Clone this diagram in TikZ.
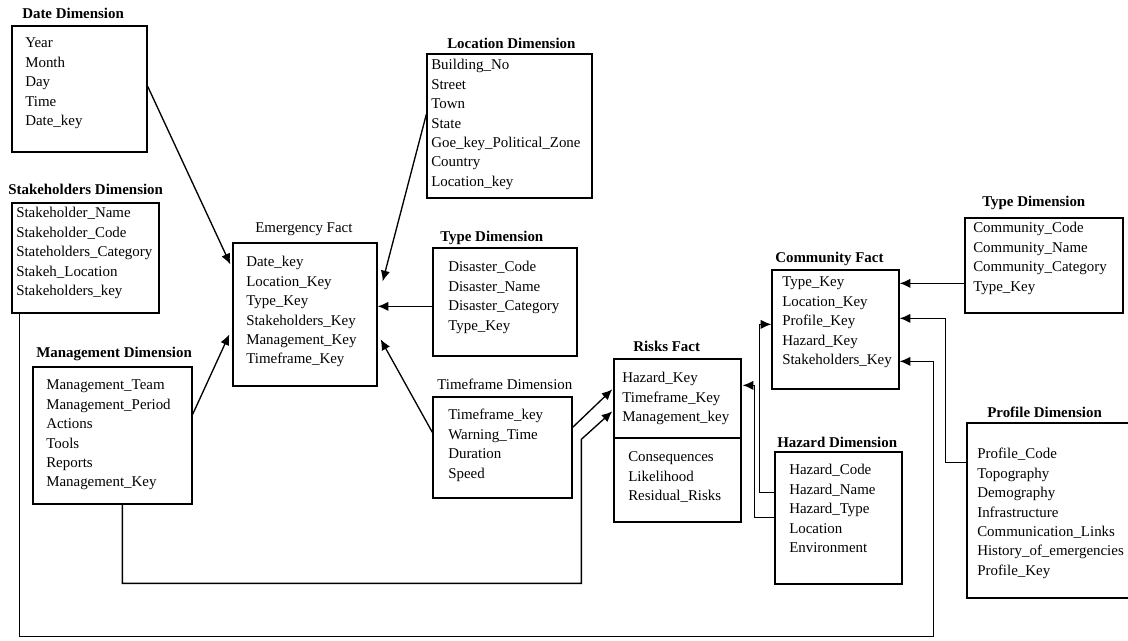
\documentclass[tikz,border=0pt]{standalone}
\usepackage{fontspec}
\setmainfont{Liberation Serif}
\usetikzlibrary{fit,calc,arrows.meta}
\newcommand\dfont{\fontsize{11.2pt}{14.55pt}\selectfont}
\begin{document}
\begin{tikzpicture}[x=0.75pt,y=-0.75pt,
 bx/.style={draw, line width=1pt, inner sep=0pt},
 body/.style={anchor=north west, inner sep=0pt, align=left, font=\dfont},
 ttl/.style={anchor=base west, inner sep=0pt, font=\dfont\bfseries},
 ttlr/.style={anchor=base west, inner sep=0pt, font=\dfont},
 conn/.style={line width=1pt, -{Latex[length=8pt,width=7pt]}}]
\useasboundingbox (0,0) rectangle (1128,641);
\fill[white] (0,0) rectangle (1128,641);
\clip (0,0) rectangle (1128,641);

% Date Dimension
\node[ttl] (dateT) at (22,19) {Date Dimension};
\node[bx, fit={(12,26)(147,152)}] (date) {};
\node[body] (dateB) at (25,34) {\strut Year\\Month\\Day\\Time\\Date\_key};

% Stakeholders Dimension
\node[ttl] (stakeT) at (8,195) {Stakeholders Dimension};
\node[bx, fit={(12,203)(159,313)}] (stake) {};
\node[body] (stakeB) at (16,204) {\strut Stakeholder\_Name\\Stakeholder\_Code\\Stateholders\_Category\\Stakeh\_Location\\Stakeholders\_key};

% Management Dimension
\node[ttl] (mgmtT) at (36,358) {Management Dimension};
\node[bx, fit={(33,367)(192,504)}] (mgmt) {};
\node[body] (mgmtB) at (46,376) {\strut Management\_Team\\Management\_Period\\Actions\\Tools\\Reports\\Management\_Key};

% Emergency Fact
\node[ttlr] (emergT) at (255,233) {Emergency Fact};
\node[bx, fit={(233,243)(377,386)}] (emerg) {};
\node[body] (emergB) at (246,253) {\strut Date\_key\\Location\_Key\\Type\_Key\\Stakeholders\_Key\\Management\_Key\\Timeframe\_Key};

% Location Dimension
\node[ttl] (locT) at (447,49) {Location Dimension};
\node[bx, fit={(427,54)(592,198)}] (loc) {};
\node[body] (locB) at (431,56) {\strut Building\_No\\Street\\Town\\State\\Goe\_key\_Political\_Zone\\Country\\Location\_key};

% Type Dimension (disaster)
\node[ttl] (typedT) at (440,242) {Type Dimension};
\node[bx, fit={(433,248)(577,356)}] (typed) {};
\node[body] (typedB) at (448,258) {\strut Disaster\_Code\\Disaster\_Name\\Disaster\_Category\\Type\_Key};

% Timeframe Dimension
\node[ttlr] (timeT) at (437,390) {Timeframe Dimension};
\node[bx, fit={(433,397)(572,498)}] (time) {};
\node[body] (timeB) at (448,406) {\strut Timeframe\_key\\Warning\_Time\\Duration\\Speed};

% Risks Fact
\node[ttl] (riskT) at (633,352) {Risks Fact};
\node[bx, fit={(614,359)(741,522)}] (risk) {};
\draw[line width=1pt] (risk.west |- 0,438) -- (risk.east |- 0,438);
\node[body] (riskB1) at (622,369) {\strut Hazard\_Key\\Timeframe\_Key\\Management\_key};
\node[body] (riskB2) at (628,448) {\strut Consequences\\Likelihood\\Residual\_Risks};

% Hazard Dimension
\node[ttl] (hazT) at (777,447) {Hazard Dimension};
\node[bx, fit={(775,452)(902,584)}] (haz) {};
\node[body] (hazB) at (789,461) {\strut Hazard\_Code\\Hazard\_Name\\Hazard\_Type\\Location\\Environment};

% Community Fact
\node[ttl] (commT) at (775,263) {Community Fact};
\node[bx, fit={(772,270)(899,389)}] (comm) {};
\node[body] (commB) at (782,273) {\strut Type\_Key\\Location\_Key\\Profile\_Key\\Hazard\_Key\\Stakeholders\_Key};

% Type Dimension (community)
\node[ttl] (typecT) at (982,207) {Type Dimension};
\node[bx, fit={(965,218)(1123,313)}] (typec) {};
\node[body] (typecB) at (973,219) {\strut Community\_Code\\Community\_Name\\Community\_Category\\Type\_Key};

% Profile Dimension
\node[ttl] (profT) at (987,418) {Profile Dimension};
\node[bx, fit={(967,423)(1140,598)}] (prof) {};
\node[body] (profB) at (977,445) {\strut Profile\_Code\\Topography\\Demography\\Infrastructure\\Communication\_Links\\History\_of\_emergencies\\Profile\_Key};

% Connectors
\draw[conn] ($(date.north east)+(0,61)$) -- ($(emerg.north west)+(-2,22)$);
\draw[conn] ($(mgmt.north east)+(0,48)$) -- ($(emerg.north west)+(-3,92)$);
\draw[conn] ($(loc.north west)+(0,61)$) -- ($(emerg.north east)+(5,39)$);
\draw[conn] ($(typed.north west)+(0,59)$) -- ($(emerg.north east)+(0,64)$);
\draw[conn] ($(time.north west)+(0,36)$) -- ($(emerg.north east)+(3,97)$);
\draw[conn] ($(time.north east)+(0,31)$) -- ($(risk.north west)+(-1,31)$);
\draw[conn] ($(mgmt.south west)+(90,0)$) |- ($(risk.north west)+(-32,225)$) -- ($(risk.north west)+(-32,81)$) -- ($(risk.north west)+(-1,53)$);
\draw[conn] ($(haz.north west)+(0,66)$) -| ($(risk.north east)+(13,27)$) -- ($(risk.north east)+(1,27)$);
\draw[conn] ($(haz.north west)+(0,41)$) -| ($(comm.north west)+(-12,55)$) -- ($(comm.north west)+(0,55)$);
\draw[conn] ($(typec.north west)+(0,66)$) -- ($(comm.north east)+(0,14)$);
\draw[conn] ($(prof.north west)+(0,40)$) -| ($(comm.north east)+(46,49)$) -- ($(comm.north east)+(0,49)$);
\draw[conn] ($(stake.south west)+(8,0)$) |- ($(comm.north east)+(34,367)$) -- ($(comm.north east)+(34,92)$) -- ($(comm.north east)+(0,92)$);
\end{tikzpicture}
\end{document}
